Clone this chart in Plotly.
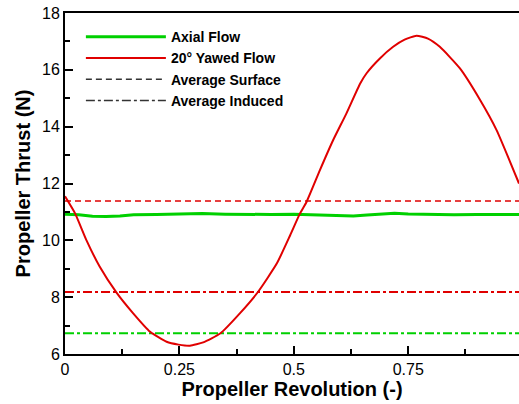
import plotly.graph_objects as go

# Yawed flow (red) thrust over one revolution
yaw_x = [0.0, 0.022, 0.047, 0.076, 0.113, 0.149, 0.186, 0.222, 0.248, 0.273, 0.302, 0.339, 0.382,
         0.422, 0.463, 0.492, 0.513, 0.528, 0.557, 0.586, 0.615, 0.645, 0.659, 0.688, 0.717, 0.742,
         0.768, 0.793, 0.819, 0.863, 0.907, 0.943, 0.992]
yaw_y = [11.55, 10.95, 10.0, 9.07, 8.15, 7.43, 6.78, 6.43, 6.33, 6.29, 6.41, 6.72, 7.43,
         8.19, 9.19, 10.18, 10.93, 11.36, 12.47, 13.53, 14.47, 15.52, 15.88, 16.4, 16.81, 17.06,
         17.2, 17.1, 16.81, 16.05, 14.94, 13.88, 12.0]

# Axial flow (green) thrust
axial_x = [0.0, 0.03, 0.06, 0.09, 0.12, 0.15, 0.2, 0.25, 0.3, 0.35, 0.4, 0.45, 0.5, 0.55,
           0.6, 0.63, 0.66, 0.7, 0.72, 0.75, 0.8, 0.85, 0.9, 0.95, 0.992]
axial_y = [10.92, 10.9, 10.85, 10.84, 10.86, 10.9, 10.91, 10.93, 10.94, 10.92, 10.91, 10.91, 10.92, 10.9,
           10.88, 10.86, 10.89, 10.92, 10.95, 10.93, 10.91, 10.9, 10.91, 10.9, 10.91]

# Averages
yaw_avg_surface = 11.38
yaw_avg_induced = 8.18
axial_avg_induced = 6.73

x_range = [0, 0.992]
x_ticks = [0, 0.25, 0.5, 0.75]
x_ticklabels = ["0", "0.25", "0.5", "0.75"]
y_ticks = [6, 8, 10, 12, 14, 16, 18]

RED = "#e00000"
GREEN = "#00d000"

fig = go.Figure()

fig.add_trace(go.Scatter(x=[x_range[0], x_range[1]], y=[yaw_avg_surface] * 2, mode="lines",
                         line=dict(color=RED, width=1.5, dash="6px,4px"), showlegend=False))
fig.add_trace(go.Scatter(x=[x_range[0], x_range[1]], y=[yaw_avg_induced] * 2, mode="lines",
                         line=dict(color=RED, width=2, dash="9px,3px,3px,3px"), showlegend=False))
fig.add_trace(go.Scatter(x=[x_range[0], x_range[1]], y=[axial_avg_induced] * 2, mode="lines",
                         line=dict(color=GREEN, width=2, dash="9px,3px,3px,3px"), showlegend=False))

fig.add_trace(go.Scatter(x=axial_x, y=axial_y, mode="lines", name="Axial Flow",
                         line=dict(color=GREEN, width=3)))
fig.add_trace(go.Scatter(x=yaw_x, y=yaw_y, mode="lines", name="20° Yawed Flow",
                         line=dict(color=RED, width=2, shape="spline", smoothing=0.5)))
fig.add_trace(go.Scatter(x=[None], y=[None], mode="lines", name="Average Surface",
                         line=dict(color="#333333", width=1.5, dash="6px,4px")))
fig.add_trace(go.Scatter(x=[None], y=[None], mode="lines", name="Average Induced",
                         line=dict(color="#333333", width=1.5, dash="9px,3px,3px,3px")))

fig.update_layout(
    width=519, height=404,
    margin=dict(l=65, r=0, t=13, b=50),
    paper_bgcolor="white", plot_bgcolor="white",
    font=dict(family="Liberation Sans, Arial, sans-serif", color="black"),
    legend=dict(x=0.035, y=0.976, xanchor="left", yanchor="top", bgcolor="rgba(0,0,0,0)",
                font=dict(size=14, family="Liberation Sans, Arial, sans-serif", weight="bold"),
                itemwidth=80, tracegroupgap=0),
    xaxis=dict(range=x_range, tickvals=x_ticks, ticktext=x_ticklabels, showgrid=False, zeroline=False,
               showline=True, linecolor="black", linewidth=2, mirror=True,
               ticks="inside", ticklen=8, tickwidth=2, tickcolor="black",
               tickfont=dict(size=16),
               minor=dict(tickvals=[0.125, 0.375, 0.625, 0.875], ticks="inside", ticklen=5, tickwidth=1.5,
                          tickcolor="black"),
               title=dict(text="<b>Propeller Revolution (-)</b>", font=dict(size=20), standoff=4)),
    yaxis=dict(range=[6, 18], tickvals=y_ticks, showgrid=False, zeroline=False,
               showline=True, linecolor="black", linewidth=2, mirror=False,
               ticks="inside", ticklen=8, tickwidth=2, tickcolor="black",
               tickfont=dict(size=16),
               minor=dict(tickvals=[7, 9, 11, 13, 15, 17], ticks="inside", ticklen=5, tickwidth=1.5,
                          tickcolor="black"),
               title=dict(text="<b>Propeller Thrust (N)</b>", font=dict(size=20), standoff=6)),
)

fig.write_html("out.html")
